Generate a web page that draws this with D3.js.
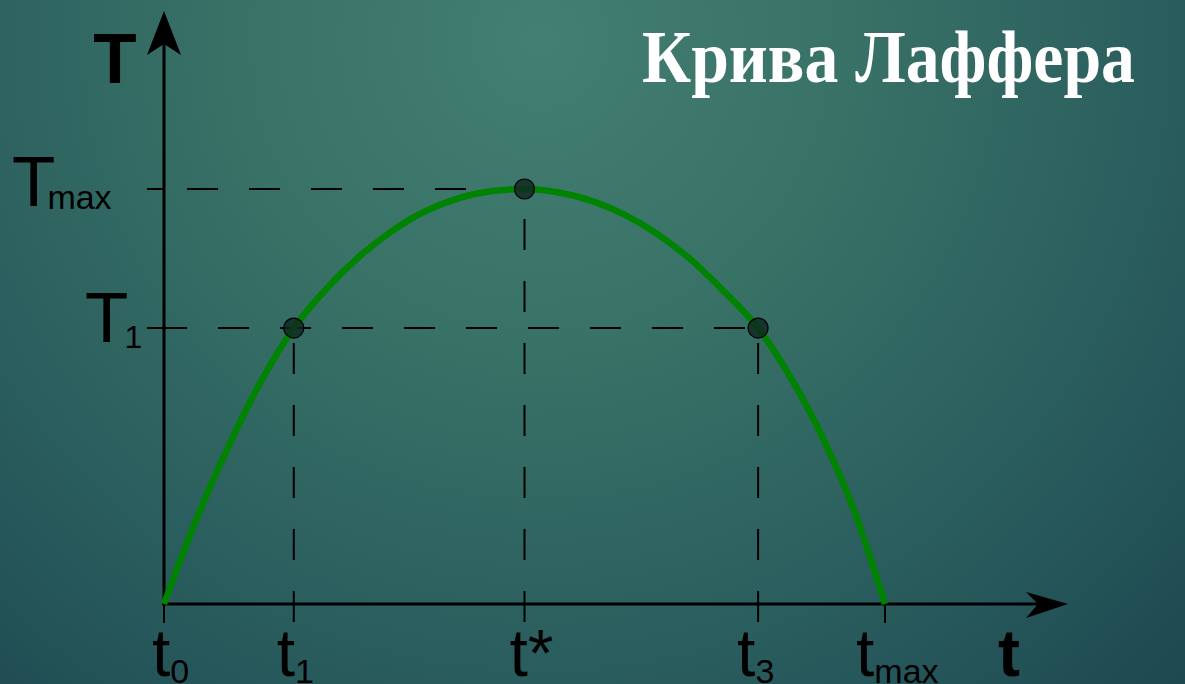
<!DOCTYPE html>
<html>
<head>
<meta charset="utf-8">
<script src="https://cdn.jsdelivr.net/npm/d3@7"></script>
<style>
  body { margin: 0; background: #2b5f5f; }
  svg { display: block; }
</style>
</head>
<body>
<div id="canvas"></div>
<script>
// curve: tax rate t (0..100 = t0..tmax), revenue T (0..100 = 0..Tmax)
var curveRate = [0, 4.4, 8.9, 13.4, 18.0, 22.6, 27.2, 31.8, 36.3, 40.9, 45.5, 50.0,
                 54.6, 59.2, 63.8, 68.4, 73.0, 77.5, 82.4, 86.8, 91.3, 95.7, 100];
var curveRevenue = [0, 20.0, 37.8, 53.5, 66.5, 76.1, 83.9, 90.1, 94.7, 97.8, 99.5, 100,
                    99.2, 97.2, 93.9, 89.2, 83.1, 75.6, 66.5, 54.9, 40.3, 22.6, 0];

// marked points on the curve
var pointRate = [18.0, 50.0, 82.4];
var pointRevenue = [66.5, 100, 66.5];

// x tick labels (main letter + subscript)
var xTickValues = [0, 18.0, 50.0, 82.4, 100];
var xTickMain = ['t', 't', 't*', 't', 't'];
var xTickSub = ['0', '1', '', '3', 'max'];

// y tick labels
var yTickValues = [100, 66.5];
var yTickMain = ['T', 'T'];
var yTickSub = ['max', '1'];

var title = 'Крива Лаффера';

var W = 1185, H = 684;

var svg = d3.select('#canvas').append('svg')
    .attr('width', W).attr('height', H);

// background
var defs = svg.append('defs');
var grad = defs.append('radialGradient').attr('id', 'bg')
    .attr('gradientUnits', 'userSpaceOnUse')
    .attr('cx', 540).attr('cy', 40).attr('r', 900);
grad.append('stop').attr('offset', 0).attr('stop-color', '#447f74');
grad.append('stop').attr('offset', 0.35).attr('stop-color', '#387166');
grad.append('stop').attr('offset', 0.7).attr('stop-color', '#2a5d5e');
grad.append('stop').attr('offset', 1).attr('stop-color', '#1d4951');
svg.append('rect').attr('width', W).attr('height', H).attr('fill', 'url(#bg)');

var x = d3.scaleLinear().domain([0, 100]).range([164, 885]);
var y = d3.scaleLinear().domain([0, 100]).range([604, 189]);

var font = '"Liberation Sans", Arial, sans-serif';

// axes
var axes = svg.append('g').attr('stroke', '#000').attr('stroke-width', 3);
axes.append('line').attr('x1', x(0)).attr('y1', y(0) + 1.5).attr('x2', x(0)).attr('y2', 30);
axes.append('line').attr('x1', x(0) - 1.5).attr('y1', y(0)).attr('x2', 1050).attr('y2', y(0));
svg.append('path')
    .attr('d', 'M164,11 L181,55 L164,44 L147,55 Z')
    .attr('fill', '#000');
svg.append('path')
    .attr('d', 'M1068,604 L1026,592 L1038,604 L1026,618 Z')
    .attr('fill', '#000');

// solid ticks at t0 and tmax
var thin = svg.append('g').attr('stroke', '#000').attr('stroke-width', 2);
[0, 100].forEach(function(v){
    thin.append('line').attr('x1', x(v)).attr('x2', x(v)).attr('y1', y(0)).attr('y2', 623);
});
// ticks left of the y axis
yTickValues.forEach(function(v){
    thin.append('line').attr('x1', 147).attr('x2', x(0)).attr('y1', y(v)).attr('y2', y(v));
});

// dashed guide lines
var dash = svg.append('g').attr('stroke', '#000').attr('stroke-width', 2)
    .attr('stroke-dasharray', '31,31').attr('fill', 'none');
// verticals drawn from below the axis upwards
pointRate.forEach(function(v, i){
    dash.append('line')
        .attr('x1', x(v)).attr('x2', x(v))
        .attr('y1', 622).attr('y2', y(pointRevenue[i]));
});
// T1 horizontal
dash.append('line')
    .attr('x1', x(0)).attr('x2', x(pointRate[2]))
    .attr('y1', y(pointRevenue[0])).attr('y2', y(pointRevenue[0]))
    .attr('stroke-dashoffset', 8);
// Tmax horizontal, starts with a gap next to the axis
dash.append('line')
    .attr('x1', x(0)).attr('x2', x(pointRate[1]))
    .attr('y1', y(pointRevenue[1])).attr('y2', y(pointRevenue[1]))
    .attr('stroke-dashoffset', 39);

// Laffer curve
var curveData = curveRate.map(function(d, i){ return [d, curveRevenue[i]]; });
var line = d3.line()
    .x(function(d){ return x(d[0]); })
    .y(function(d){ return y(d[1]); })
    .curve(d3.curveMonotoneX);
svg.append('path')
    .datum(curveData)
    .attr('d', line)
    .attr('fill', 'none')
    .attr('stroke', '#008300')
    .attr('stroke-width', 6.5);

// points
svg.selectAll('.pt')
    .data(pointRate)
    .enter().append('circle').attr('class', 'pt')
    .attr('cx', function(d){ return x(d); })
    .attr('cy', function(d, i){ return y(pointRevenue[i]); })
    .attr('r', 10)
    .attr('fill', '#0f2421').attr('fill-opacity', 0.8)
    .attr('stroke', '#000').attr('stroke-width', 1.2);

// y tick labels
yTickValues.forEach(function(v, i){
    var t = svg.append('text')
        .attr('font-family', font)
        .attr('fill', '#000');
    if (yTickSub[i] === 'max') {
        t.attr('x', 12).attr('y', y(v) + 17);
        t.append('tspan').attr('font-size', 71).text(yTickMain[i]);
        t.append('tspan').attr('font-size', 34).attr('dx', -8).attr('dy', 3).text(yTickSub[i]);
    } else {
        t.attr('x', 85).attr('y', y(v) + 14);
        t.append('tspan').attr('font-size', 71).text(yTickMain[i]);
        t.append('tspan').attr('font-size', 32).attr('dx', -4).attr('dy', 6).text(yTickSub[i]);
    }
});

// x tick labels, shifted left of their tick as in the original slide
var xLabelShift = [-12, -17, -15, -21, -29];
xTickValues.forEach(function(v, i){
    var t = svg.append('text')
        .attr('font-family', font)
        .attr('fill', '#000')
        .attr('x', x(v) + xLabelShift[i]).attr('y', 676);
    t.append('tspan').attr('font-size', 66).text(xTickMain[i]);
    if (xTickSub[i]) {
        t.append('tspan').attr('font-size', 34).attr('dy', 7).text(xTickSub[i]);
    }
});

// axis names
svg.append('text')
    .attr('x', 115).attr('y', 83)
    .attr('text-anchor', 'middle')
    .attr('font-family', font).attr('font-weight', 'bold')
    .attr('font-size', 71).attr('fill', '#000')
    .text('T');
svg.append('text')
    .attr('x', 1009).attr('y', 676)
    .attr('text-anchor', 'middle')
    .attr('font-family', font).attr('font-weight', 'bold')
    .attr('font-size', 66).attr('fill', '#000')
    .text('t');

// title
svg.append('text')
    .attr('x', 642).attr('y', 82)
    .attr('font-family', '"Liberation Serif", "Times New Roman", serif')
    .attr('font-weight', 'bold')
    .attr('font-size', 75)
    .attr('textLength', 493)
    .attr('lengthAdjust', 'spacingAndGlyphs')
    .attr('fill', '#fff')
    .text(title);
</script>
</body>
</html>
